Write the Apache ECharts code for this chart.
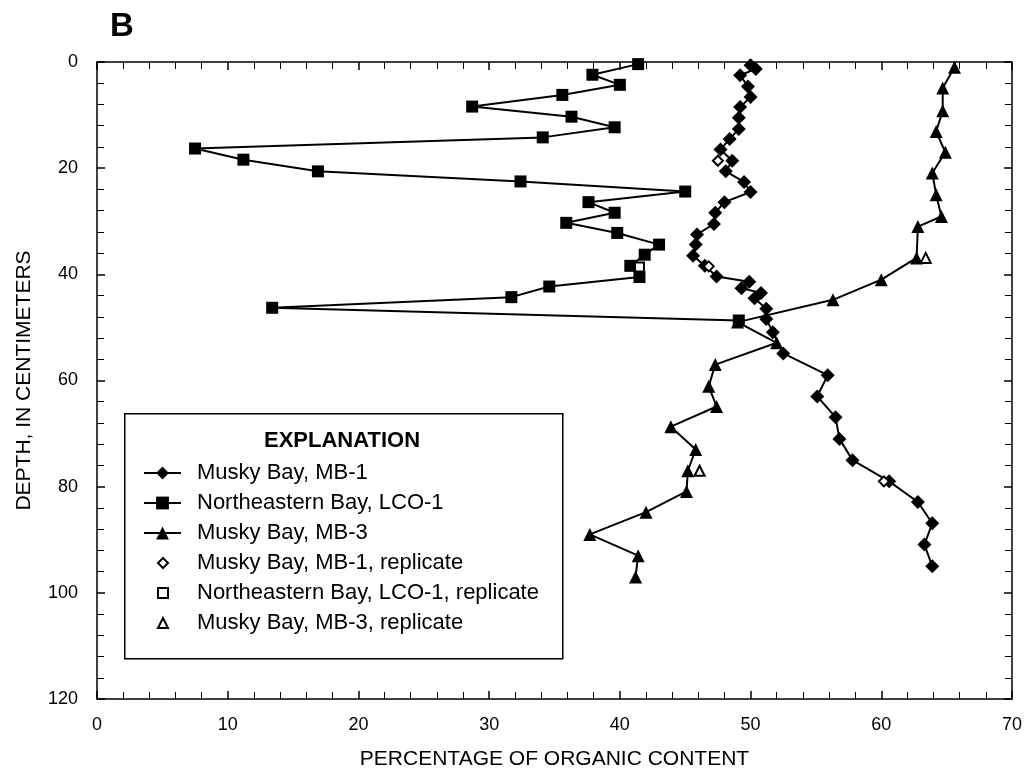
<!DOCTYPE html>
<html><head><meta charset="utf-8">
<script src="https://cdn.jsdelivr.net/npm/echarts@6/dist/echarts.min.js"></script>
<style>html,body{margin:0;padding:0;background:#fff}#c{width:1031px;height:777px}</style>
</head><body><div id="c"></div>
<script>
// ---- data (depth in cm, percentage of organic content) ----
const mb1Depth = [0.6,1.3,2.5,4.6,6.6,8.5,10.5,12.6,14.5,16.5,18.6,20.6,22.6,24.5,26.4,28.4,30.5,32.5,34.4,36.5,38.4,40.4,41.4,42.6,43.5,44.5,46.5,48.4,50.9,54.9,59.0,63.0,66.9,71.0,75.0,79.0,82.9,86.9,90.9,95.0];
const mb1Pct   = [50.0,50.4,49.2,49.8,50.0,49.2,49.1,49.1,48.4,47.7,48.6,48.1,49.5,50.0,48.0,47.3,47.2,45.9,45.8,45.6,46.5,47.4,49.9,49.3,50.8,50.3,51.2,51.2,51.7,52.5,55.9,55.1,56.5,56.8,57.8,60.6,62.8,63.9,63.3,63.9];

const lco1Depth = [0.4,2.4,4.3,6.2,8.4,10.3,12.3,14.2,16.3,18.4,20.6,22.5,24.4,26.4,28.4,30.3,32.2,34.4,36.3,38.4,40.5,42.3,44.3,46.3,48.7];
const lco1Pct   = [41.4,37.9,40.0,35.6,28.7,36.3,39.6,34.1,7.5,11.2,16.9,32.4,45.0,37.6,39.6,35.9,39.8,43.0,41.9,40.8,41.5,34.6,31.7,13.4,49.1];

const mb3Depth = [1.0,4.9,9.2,13.1,17.0,20.9,25.0,29.1,31.0,36.9,41.0,44.8,49.0,52.9,57.0,61.1,64.9,68.7,73.0,77.0,80.9,84.8,89.0,93.0,97.0];
const mb3Pct   = [65.6,64.7,64.7,64.2,64.9,63.9,64.2,64.6,62.8,62.7,60.0,56.3,49.0,52.0,47.3,46.8,47.4,43.9,45.8,45.2,45.1,42.0,37.7,41.4,41.2];

const mb1RepDepth = [18.6,38.5,79.0];
const mb1RepPct   = [47.5,46.8,60.2];
const lco1RepDepth = [38.6];
const lco1RepPct   = [41.5];
const mb3RepDepth = [36.9,77.0];
const mb3RepPct   = [63.4,46.1];

const seriesNames = ['Musky Bay, MB-1','Northeastern Bay, LCO-1','Musky Bay, MB-3',
  'Musky Bay, MB-1, replicate','Northeastern Bay, LCO-1, replicate','Musky Bay, MB-3, replicate'];
const xAxisTitle = 'PERCENTAGE OF ORGANIC CONTENT';
const yAxisTitle = 'DEPTH, IN CENTIMETERS';
const legendTitle = 'EXPLANATION';
const panelLabel = 'B';

// ---- build ----
const FONT = '"Liberation Sans", Arial, Helvetica, sans-serif';
const pairs = (xs, ds) => xs.map((v, i) => [v, ds[i]]);

const tickStyle = {
  axisLine: {show: true, onZero: false, lineStyle: {color: '#000', width: 1.5}},
  axisTick: {show: true, inside: true, length: 8, lineStyle: {color: '#000', width: 1.5}},
  minorTick: {show: true, splitNumber: 5, length: 7, lineStyle: {color: '#000', width: 1}},
  splitLine: {show: false}, minorSplitLine: {show: false}
};

function lineSeries(name, data, symbol, size) {
  return {
    name, type: 'line', data, symbol, symbolSize: size, showSymbol: true,
    itemStyle: {color: '#000', opacity: 1}, lineStyle: {color: '#000', width: 2},
    animation: false, z: 3
  };
}
function repSeries(name, data, symbol, size) {
  return {
    name, type: 'scatter', data, symbol, symbolSize: size,
    itemStyle: {color: '#fff', borderColor: '#000', borderWidth: 2, opacity: 1},
    animation: false, z: 5
  };
}

const chart = echarts.init(document.getElementById('c'), null, {renderer: 'canvas'});
chart.setOption({
  backgroundColor: '#fff',
  animation: false,
  textStyle: {fontFamily: FONT, color: '#000'},
  grid: {left: 97, right: 19, top: 62, bottom: 78, containLabel: false},
  xAxis: [
    Object.assign({
      type: 'value', position: 'bottom', min: 0, max: 70, interval: 10,
      axisLabel: {color: '#000', fontSize: 18, margin: 17, fontFamily: FONT},
      name: xAxisTitle, nameLocation: 'middle', nameGap: 50,
      nameTextStyle: {color: '#000', fontSize: 21, fontFamily: FONT}
    }, tickStyle),
    Object.assign({
      type: 'value', position: 'top', min: 0, max: 70, interval: 10,
      axisLabel: {show: false}
    }, tickStyle)
  ],
  yAxis: [
    Object.assign({
      type: 'value', position: 'left', inverse: true, min: 0, max: 120, interval: 20,
      axisLabel: {color: '#000', fontSize: 18, margin: 19, fontFamily: FONT},
      name: yAxisTitle, nameLocation: 'middle', nameGap: 62, nameRotate: 90,
      nameTextStyle: {color: '#000', fontSize: 21, fontFamily: FONT}
    }, tickStyle),
    Object.assign({
      type: 'value', position: 'right', inverse: true, min: 0, max: 120, interval: 20,
      axisLabel: {show: false}
    }, tickStyle)
  ],
  legend: [
    {
      data: seriesNames.slice(0, 3), orient: 'vertical', left: 143, top: 462, padding: 0,
      itemWidth: 37, itemHeight: 16, itemGap: 8,
      textStyle: {fontSize: 22, color: '#000', fontFamily: FONT, padding: [0, 0, 0, 11]},
      selectedMode: false
    },
    {
      data: seriesNames.slice(3), orient: 'vertical', left: 157, top: 552, padding: 0,
      itemWidth: 10, itemHeight: 10, itemGap: 8,
      itemStyle: {opacity: 1},
      textStyle: {fontSize: 22, color: '#000', fontFamily: FONT, padding: [0, 0, 0, 24]},
      selectedMode: false
    }
  ],
  graphic: [
    {type: 'rect', left: 124, top: 413, z: 0,
     shape: {width: 438, height: 245},
     style: {fill: '#fff', stroke: '#000', lineWidth: 1.5}},
    {type: 'text', left: 264, top: 430, z: 10,
     style: {text: legendTitle, font: 'bold 22px ' + FONT, fill: '#000'}},
    {type: 'text', left: 110, top: 10,
     style: {text: panelLabel, font: 'bold 33px ' + FONT, fill: '#000'}}
  ],
  series: [
    lineSeries(seriesNames[0], pairs(mb1Pct, mb1Depth), 'diamond', 14),
    lineSeries(seriesNames[1], pairs(lco1Pct, lco1Depth), 'rect', 12),
    lineSeries(seriesNames[2], pairs(mb3Pct, mb3Depth), 'triangle', 13),
    repSeries(seriesNames[3], pairs(mb1RepPct, mb1RepDepth), 'diamond', 10),
    repSeries(seriesNames[4], pairs(lco1RepPct, lco1RepDepth), 'rect', 9),
    repSeries(seriesNames[5], pairs(mb3RepPct, mb3RepDepth), 'triangle', 10)
  ]
});
</script></body></html>
